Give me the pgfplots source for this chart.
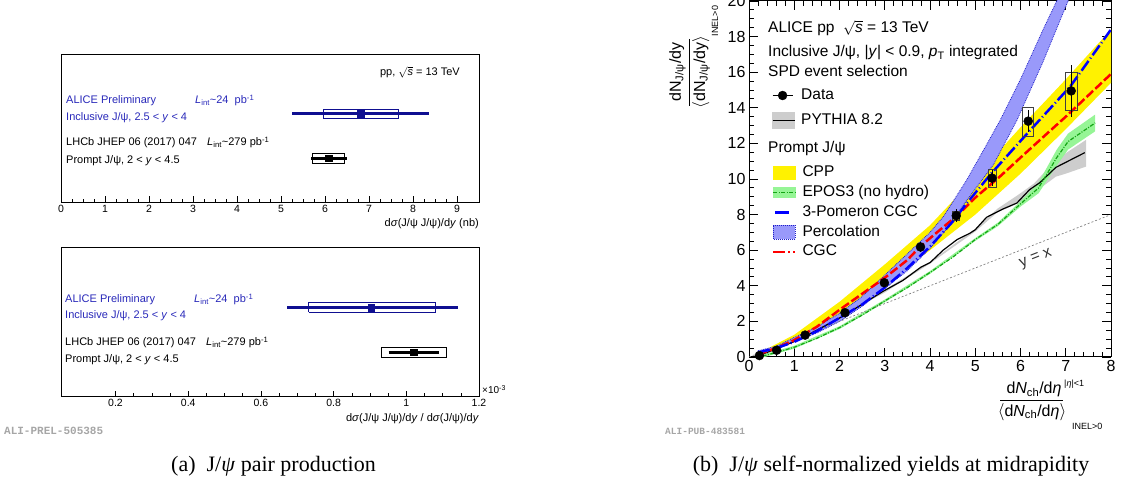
\documentclass[border=0pt]{standalone}
\usepackage{pgfplots}
\pgfplotsset{compat=1.18}
\usepackage{fontspec}
\setmainfont{Liberation Sans}
\newfontfamily\capfont{Liberation Serif}
\newfontfamily\alimono{Liberation Mono}
\definecolor{alice}{RGB}{15,15,145}
\definecolor{alicetext}{RGB}{40,40,185}
\definecolor{perc}{RGB}{153,153,250}
\definecolor{percline}{RGB}{30,30,200}
\definecolor{eposband}{RGB}{150,245,150}
\definecolor{eposline}{RGB}{20,165,20}
\definecolor{pyband}{RGB}{205,205,205}
\newcommand\sqrts{$\sqrt{\mbox{\itshape s}}$}
\newcommand\fa{\fontsize{11}{13}\selectfont}
\newcommand\fb{\fontsize{15.5}{18}\selectfont}
\newcommand\fs{\fontsize{9}{10}\selectfont}

\begin{document}
\begin{tikzpicture}[x=1pt,y=1pt]
\useasboundingbox (0,0) rectangle (1121,490);

% ---------------- left top ----------------
\begin{axis}[at={(61pt,288pt)}, anchor=south west, scale only axis,
  width=418pt, height=148pt, xmin=0, xmax=9.5, ymin=0, ymax=1,
  ytick=\empty, xtick={0,...,9}, minor x tick num=3, xtick pos=left,
  tick align=inside, major tick length=5.5pt, minor tick length=3pt,
  axis line style={line width=0.6pt}, tick style={black, line width=0.5pt},
  ticklabel style={font=\fontsize{10.5}{10.5}\selectfont},
  /pgf/number format/assume math mode=true]
\addplot[alice, line width=3pt] coordinates {(5.26,0.595) (8.36,0.595)};
\addplot[alice, line width=0.8pt] coordinates {(5.96,0.563) (7.67,0.563) (7.67,0.627) (5.96,0.627) (5.96,0.563)};
\addplot[alice, only marks, mark=square*, mark size=3.3pt] coordinates {(6.81,0.595)};
\addplot[black, line width=3pt] coordinates {(5.69,0.295) (6.51,0.295)};
\addplot[black, line width=0.8pt] coordinates {(5.71,0.261) (6.45,0.261) (6.45,0.329) (5.71,0.329) (5.71,0.261)};
\addplot[black, only marks, mark=square*, mark size=3.3pt] coordinates {(6.08,0.295)};
\end{axis}

% ---------------- left bottom ----------------
\begin{axis}[at={(61pt,94pt)}, anchor=south west, scale only axis,
  width=418pt, height=149pt, xmin=0.05, xmax=1.2, ymin=0, ymax=1,
  ytick=\empty, xtick={0.2,0.4,0.6,0.8,1,1.2}, minor x tick num=3, xtick pos=left,
  tick align=inside, major tick length=5.5pt, minor tick length=3pt,
  axis line style={line width=0.6pt}, tick style={black, line width=0.5pt},
  ticklabel style={font=\fontsize{10.5}{10.5}\selectfont},
  /pgf/number format/assume math mode=true]
\addplot[alice, line width=3pt] coordinates {(0.672,0.593) (1.141,0.593)};
\addplot[alice, line width=0.8pt] coordinates {(0.731,0.561) (1.081,0.561) (1.081,0.625) (0.731,0.625) (0.731,0.561)};
\addplot[alice, only marks, mark=square*, mark size=3.3pt] coordinates {(0.903,0.593)};
\addplot[black, line width=3pt] coordinates {(0.951,0.293) (1.091,0.293)};
\addplot[black, line width=0.8pt] coordinates {(0.931,0.259) (1.111,0.259) (1.111,0.327) (0.931,0.327) (0.931,0.259)};
\addplot[black, only marks, mark=square*, mark size=3.3pt] coordinates {(1.02,0.293)};
\end{axis}

% left texts
\begin{scope}[every node/.style={inner sep=0pt, font=\fa}]
\node[anchor=base east] at (460,414) {pp, \sqrts\ = 13 TeV};
\node[anchor=base west, text=alicetext] at (66,386) {ALICE Preliminary};
\node[anchor=base west, text=alicetext] at (195,386) {\textit{L}\textsubscript{int}\textasciitilde24\ \ pb\textsuperscript{-1}};
\node[anchor=base west, text=alicetext] at (66,369.5) {Inclusive J/ψ, 2.5 < \textit{y} < 4};
\node[anchor=base west] at (66,344) {LHCb JHEP 06 (2017) 047};
\node[anchor=base west] at (207,344) {\textit{L}\textsubscript{int}\textasciitilde279 pb\textsuperscript{-1}};
\node[anchor=base west] at (66,326) {Prompt J/ψ, 2 < \textit{y} < 4.5};
\node[anchor=base east] at (479,263) {d\textit{σ}(J/ψ J/ψ)/d\textit{y} (nb)};
\node[anchor=base west, text=alicetext] at (65,187) {ALICE Preliminary};
\node[anchor=base west, text=alicetext] at (194,187) {\textit{L}\textsubscript{int}\textasciitilde24\ \ pb\textsuperscript{-1}};
\node[anchor=base west, text=alicetext] at (65,171) {Inclusive J/ψ, 2.5 < \textit{y} < 4};
\node[anchor=base west] at (65,144) {LHCb JHEP 06 (2017) 047};
\node[anchor=base west] at (206,144) {\textit{L}\textsubscript{int}\textasciitilde279 pb\textsuperscript{-1}};
\node[anchor=base west] at (65,127) {Prompt J/ψ, 2 < \textit{y} < 4.5};
\node[anchor=base east] at (479,69) {d\textit{σ}(J/ψ J/ψ)/d\textit{y} / d\textit{σ}(J/ψ)/d\textit{y}};
\node[anchor=base west, font=\fontsize{10}{10}\selectfont] at (482,96) {×10\textsuperscript{-3}};
\node[anchor=base west, text=black!35, font=\alimono\bfseries\fontsize{11}{11}\selectfont] at (4,56) {ALI-PREL-505385};
\node[anchor=base, font=\capfont\fontsize{22}{22}\selectfont] at (273.5,19) {(a)\ \ J/\textit{ψ} pair production};
\end{scope}

% ---------------- right ----------------
\begin{axis}[at={(749pt,133pt)}, anchor=south west, scale only axis,
  width=362pt, height=356pt, xmin=0, xmax=8, ymin=0, ymax=20,
  xtick={0,...,8}, ytick={0,2,...,20}, minor x tick num=4, minor y tick num=3,
  tick align=inside, major tick length=9pt, minor tick length=5pt,
  axis line style={line width=1pt}, tick style={black, line width=0.8pt},
  ticklabel style={font=\fontsize{16}{16}\selectfont},
  /pgf/number format/assume math mode=true,
  legend cell align=left,
  legend style={at={(0.0635,0.7556)}, anchor=north west, draw=none, fill=none,
    inner sep=0pt, outer sep=0pt, row sep=9pt, column sep=6pt, font=\fb,
    nodes={inner sep=0pt, text height=11.5pt, text depth=3.5pt}}]
% CPP
\addplot[fill=yellow, draw=none, forget plot] coordinates {(0.2,0.2) (1,1.25) (2,3.1) (3,5.2) (4,7.4) (5,10.1) (6,12.9) (7,15.6) (8,18.4) (8,15.4) (7,12.8) (6,10.3) (5,8.0) (4,6.0) (3,4.1) (2,2.4) (1,0.95) (0.2,0.15) (0.2,0.2)};
% PYTHIA band
\addplot[fill=pyband, draw=none, forget plot] coordinates {(0.2,0.13) (1,0.98) (2,2.32) (3,3.78) (4,5.35) (5,7.2) (5.5,8.35) (6,9.2) (6.3,9.75) (6.5,10.3) (6.78,11.1) (7,11.45) (7.45,12.2) (7.45,10.7) (7,10.3) (6.78,10.13) (6.5,9.6) (6.3,9.45) (6,8.7) (5.5,8.15) (5,7.05) (4,5.25) (3,3.62) (2,2.26) (1,0.92) (0.2,0.09) (0.2,0.13)};
% EPOS band
\addplot[fill=eposband, draw=none, forget plot] coordinates {(0.3,0.13) (1,0.63) (2,1.73) (3,3.23) (4,4.83) (5,6.68) (5.5,7.55) (6,8.75) (6.4,9.8) (6.8,11.65) (7.05,12.55) (7.65,13.62) (7.65,12.68) (7.05,11.65) (6.8,10.75) (6.4,9.2) (6,8.45) (5.5,7.35) (5,6.52) (4,4.67) (3,3.07) (2,1.57) (1,0.47) (0.3,-0.03) (0.3,0.13)};
% Percolation
\addplot[fill=perc, draw=percline, densely dotted, line width=0.8pt, forget plot] coordinates {(0.2,0.35) (0.6,0.6) (1,1.1) (1.5,1.7) (2,2.45) (2.5,3.4) (3,4.6) (3.5,5.8) (4,7.0) (4.3,7.9) (4.8,9.9) (5.2,11.7) (5.55,13.3) (6,15.6) (6.5,18.4) (6.8,20) (7.0,21) (7.25,21) (7.05,20) (6.5,16.6) (5.92,13.3) (5.4,10.8) (4.81,8.8) (4.4,7.3) (4,6.1) (3.5,4.85) (3,3.85) (2.5,2.85) (2,2.0) (1.5,1.35) (1,0.85) (0.6,0.45) (0.2,0.2) (0.2,0.35)};
% y = x
\addplot[gray, line width=0.7pt, dash pattern=on 2pt off 2pt, forget plot] coordinates {(0,0) (8,8)};
% PYTHIA line
\addplot[black, line width=1.2pt, forget plot] coordinates {(0.24,0.11) (0.61,0.45) (1.2,1.1) (2.08,2.3) (2.97,3.7) (3.4,4.3) (3.8,5.05) (4.0,5.3) (4.29,6.0) (4.6,6.6) (4.88,6.95) (5.0,7.15) (5.25,7.85) (5.6,8.3) (5.92,8.65) (6.2,9.4) (6.43,9.8) (6.78,10.65) (7.42,11.48)};
% EPOS line
\addplot[eposline, line width=1.2pt, dash pattern=on 4pt off 1.5pt on 1pt off 1.5pt, forget plot] coordinates {(0.3,0.05) (0.6,0.25) (1,0.55) (1.5,1.05) (2,1.65) (2.5,2.35) (3,3.15) (3.5,3.9) (4,4.75) (4.5,5.6) (5,6.6) (5.5,7.45) (6,8.6) (6.4,9.5) (6.8,11.2) (7.05,12.1) (7.65,13.15)};
% CGC
\addplot[red, line width=2.5pt, dash pattern=on 9pt off 3pt, forget plot] coordinates {(0.2,0.15) (0.6,0.5) (1,0.95) (1.5,1.7) (2,2.65) (2.5,3.55) (3,4.45) (3.5,5.45) (3.78,6.2) (4.2,7.1) (4.58,7.9) (5,8.95) (5.55,10.15) (6,11.2) (6.65,12.7) (7,13.5) (7.5,14.7) (8,15.9)};
% 3-Pomeron CGC
\addplot[blue, line width=2.5pt, dash pattern=on 12pt off 3pt on 1pt off 3pt, forget plot] coordinates {(0.2,0.25) (0.6,0.5) (1,0.85) (1.5,1.45) (2,2.2) (2.5,2.95) (3,3.9) (3.5,5.0) (4,6.2) (4.5,7.6) (4.8,8.6) (5.35,10.3) (6.2,12.7) (7.1,15.2) (8,18.4)};
% systematic boxes
\addplot[black!75, line width=0.8pt, forget plot] coordinates {(4.5,7.7) (4.66,7.7) (4.66,8.2) (4.5,8.2) (4.5,7.7)};
\addplot[black!75, line width=0.8pt, forget plot] coordinates {(5.28,9.53) (5.46,9.53) (5.46,10.54) (5.28,10.54) (5.28,9.53)};
\addplot[black!75, line width=0.8pt, forget plot] coordinates {(6.04,12.38) (6.29,12.38) (6.29,14.03) (6.04,14.03) (6.04,12.38)};
\addplot[black!75, line width=0.8pt, forget plot] coordinates {(7.0,13.84) (7.26,13.84) (7.26,15.97) (7.0,15.97) (7.0,13.84)};
% data
\addplot[black, only marks, mark=*, mark size=4.5pt, forget plot,
  error bars/.cd, y dir=both, y explicit, error mark=none, error bar style={line width=0.8pt}]
  coordinates {(0.23,0.08) +- (0,0.05) (0.61,0.38) +- (0,0.05) (1.24,1.23) +- (0,0.1) (2.12,2.49) +- (0,0.15) (2.99,4.17) +- (0,0.2) (3.79,6.18) +- (0,0.3) (4.58,7.94) +- (0,0.35) (5.37,10.05) +- (0,0.45) (6.17,13.25) +- (0,0.6) (7.12,14.95) +- (0,1.45)};
% legend group 1
\addlegendimage{legend image code/.code={\draw[black, line width=0.8pt] (0pt,0pt) -- (20pt,0pt); \fill[black] (10pt,0pt) circle (4.5pt);}}
\addlegendentry{Data}
\addlegendimage{legend image code/.code={\fill[pyband] (0pt,-8pt) rectangle (22pt,8pt); \draw[black, line width=1.2pt] (0pt,0pt) -- (22pt,0pt);}}
\addlegendentry{PYTHIA 8.2}
\end{axis}

% overlay axis for the model legend
\begin{axis}[at={(749pt,133pt)}, anchor=south west, scale only axis,
  width=362pt, height=356pt, xmin=0, xmax=8, ymin=0, ymax=20, hide axis,
  legend cell align=left,
  legend style={at={(0.0635,0.538)}, anchor=north west, draw=none, fill=none,
    inner sep=0pt, outer sep=0pt, row sep=4.7pt, column sep=6pt, font=\fb,
    nodes={inner sep=0pt, text height=11.5pt, text depth=3.5pt}}]
\addlegendimage{legend image code/.code={\fill[yellow] (0pt,-6.5pt) rectangle (22pt,6.5pt);}}
\addlegendentry{CPP}
\addlegendimage{legend image code/.code={\fill[eposband] (0pt,-5pt) rectangle (22pt,5pt); \draw[eposline, line width=1.2pt, dash pattern=on 4pt off 1.5pt on 1pt off 1.5pt] (0pt,0pt) -- (22pt,0pt);}}
\addlegendentry{EPOS3 (no hydro)}
\addlegendimage{legend image code/.code={\draw[blue, line width=2.5pt] (2pt,0pt) -- (16pt,0pt);}}
\addlegendentry{3-Pomeron CGC}
\addlegendimage{legend image code/.code={\filldraw[fill=perc, draw=percline, densely dotted, line width=1pt] (0pt,-7pt) rectangle (22pt,7pt);}}
\addlegendentry{Percolation}
\addlegendimage{legend image code/.code={\draw[red, line width=2.5pt, dash pattern=on 12pt off 3pt on 2pt off 3pt] (0pt,0pt) -- (22pt,0pt);}}
\addlegendentry{CGC}
\end{axis}

% right texts
\begin{scope}[every node/.style={inner sep=0pt, font=\fb}]
\node[anchor=base west] at (768,457) {ALICE pp \ \sqrts\ = 13 TeV};
\node[anchor=base west] at (768,433.5) {Inclusive J/ψ, |\textit{y}| < 0.9, \textit{p}\textsubscript{T} integrated};
\node[anchor=base west] at (768,413) {SPD event selection};
\node[anchor=base west] at (768,337) {Prompt J/ψ};
\node[rotate=21.5, text=black!80] at (1036,231) {y = x};
% y label
\node[rotate=90, font=\fontsize{16}{16}\selectfont] at (677.5,418) {dN\textsubscript{J/ψ}/dy};
\draw[line width=0.8pt] (689.5,451) -- (689.5,384);
\node[rotate=90, font=\fontsize{16}{16}\selectfont] at (701,418) {$\langle$dN\textsubscript{J/ψ}/dy$\rangle$};
\node[rotate=90, font=\fs] at (715,469) {INEL>0};
% x label
\node[anchor=base, font=\fontsize{16}{16}\selectfont] at (1034,96) {d\textit{N}\textsubscript{ch}/d\textit{η}};
\draw[line width=0.8pt] (1000,90) -- (1063,90);
\node[anchor=base, font=\fontsize{16}{16}\selectfont] at (1032,74) {$\langle$d\textit{N}\textsubscript{ch}/d\textit{η}$\rangle$};
\node[anchor=base west, font=\fs] at (1064,103) {|\textit{η}|<1};
\node[anchor=base west, font=\fs] at (1072,61) {INEL>0};
\node[anchor=base west, text=black!35, font=\alimono\bfseries\fontsize{9.5}{10}\selectfont] at (665,56) {ALI-PUB-483581};
\node[anchor=base, font=\capfont\fontsize{22}{22}\selectfont] at (891,19) {(b)\ \ J/\textit{ψ} self-normalized yields at midrapidity};
\end{scope}
\end{tikzpicture}
\end{document}
